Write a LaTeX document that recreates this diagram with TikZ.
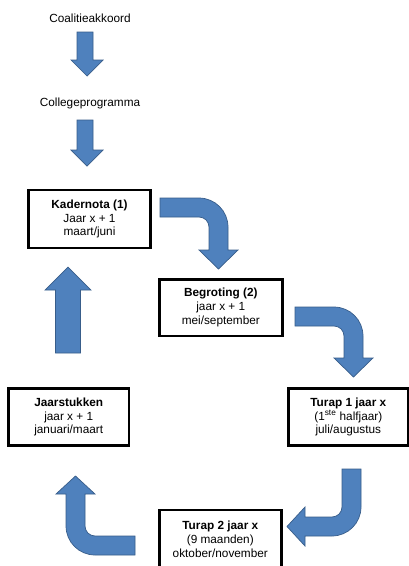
\documentclass[tikz,border=0pt]{standalone}
\usepackage{fontspec}
\setmainfont{Liberation Sans}
\definecolor{arrowblue}{RGB}{79,129,189}
\definecolor{arrowedge}{RGB}{56,93,138}
\begin{document}
\begin{tikzpicture}[x=1pt,y=-1pt,
  txt/.style={font=\fontsize{11.8}{13.8}\selectfont, inner sep=0pt},
  box/.style={draw=black, line width=2.6pt, align=center, inner sep=0pt,
    font=\fontsize{11.8}{13.8}\selectfont},
  blockarrow/.style={fill=arrowblue, draw=arrowedge, line width=0.7pt, line join=miter}]
\useasboundingbox (0,0) rectangle (409,566);
\fill[white] (0,0) rectangle (409,566);

% text labels
\node[txt] (coal) at (90,18) {Coalitieakkoord};
\node[txt] (coll) at (90,103) {Collegeprogramma};

% boxes
\node[box, minimum width=122pt, minimum height=58pt] (kader) at (89.5,219)
  {\textbf{Kadernota (1)}\\Jaar x + 1\\maart/juni};
\node[box, minimum width=123pt, minimum height=56.5pt] (begr) at (220.8,307.7)
  {\textbf{Begroting (2)}\\jaar x + 1\\mei/september};
\node[box, minimum width=120.5pt, minimum height=57pt] (jaar) at (68.7,417)
  {\textbf{Jaarstukken}\\jaar x + 1\\januari/maart};
\node[box, minimum width=120pt, minimum height=57pt] (turap1) at (348.3,417)
  {\textbf{Turap 1 jaar x}\\(1\textsuperscript{ste} halfjaar)\\juli/augustus};
\node[box, minimum width=122pt, minimum height=58pt] (turap2) at (220.3,539)
  {\textbf{Turap 2 jaar x}\\(9 maanden)\\oktober/november};

% straight down arrows
\draw[blockarrow] (77,32) -- (93,32) -- (93,60) -- (103,60) -- (87,76) -- (71,60) -- (77,60) -- cycle;
\draw[blockarrow] (77,120) -- (93,120) -- (93,150) -- (103,150) -- (87,166) -- (71,150) -- (77,150) -- cycle;

% up arrow (Jaarstukken -> Kadernota)
\draw[blockarrow] (55.5,353) -- (80.5,353) -- (80.5,290) -- (91,290) -- (68,267) -- (45,290) -- (55.5,290) -- cycle;

% bent arrow Kadernota -> Begroting
\draw[blockarrow] (160,198) -- (199,198) arc[start angle=90,end angle=0,radius=29pt]
  -- (228,250) -- (238,250) -- (218.5,269) -- (199,250) -- (209,250)
  -- (209,227) arc[start angle=0,end angle=90,radius=10pt] -- (160,217) -- cycle;

% bent arrow Begroting -> Turap 1
\draw[blockarrow] (295,307) -- (334,307) arc[start angle=90,end angle=0,radius=29pt]
  -- (363,358) -- (373,358) -- (353.5,377) -- (334,358) -- (344,358)
  -- (344,336) arc[start angle=0,end angle=90,radius=10pt] -- (295,326) -- cycle;

% bent arrow Turap 1 -> Turap 2
\draw[blockarrow] (342,469) -- (361,469) -- (361,507) arc[start angle=0,end angle=-90,radius=29pt]
  -- (305,536) -- (305,546) -- (287,526.5) -- (305,507) -- (305,517)
  -- (332,517) arc[start angle=-90,end angle=0,radius=10pt] -- cycle;

% bent arrow Turap 2 -> Jaarstukken
\draw[blockarrow] (135,536) -- (95,536) arc[start angle=-90,end angle=-180,radius=10pt]
  -- (85,494) -- (95,494) -- (75.5,476) -- (56,494) -- (66,494)
  -- (66,526) arc[start angle=180,end angle=270,radius=29pt] -- (135,555) -- cycle;
\end{tikzpicture}
\end{document}
